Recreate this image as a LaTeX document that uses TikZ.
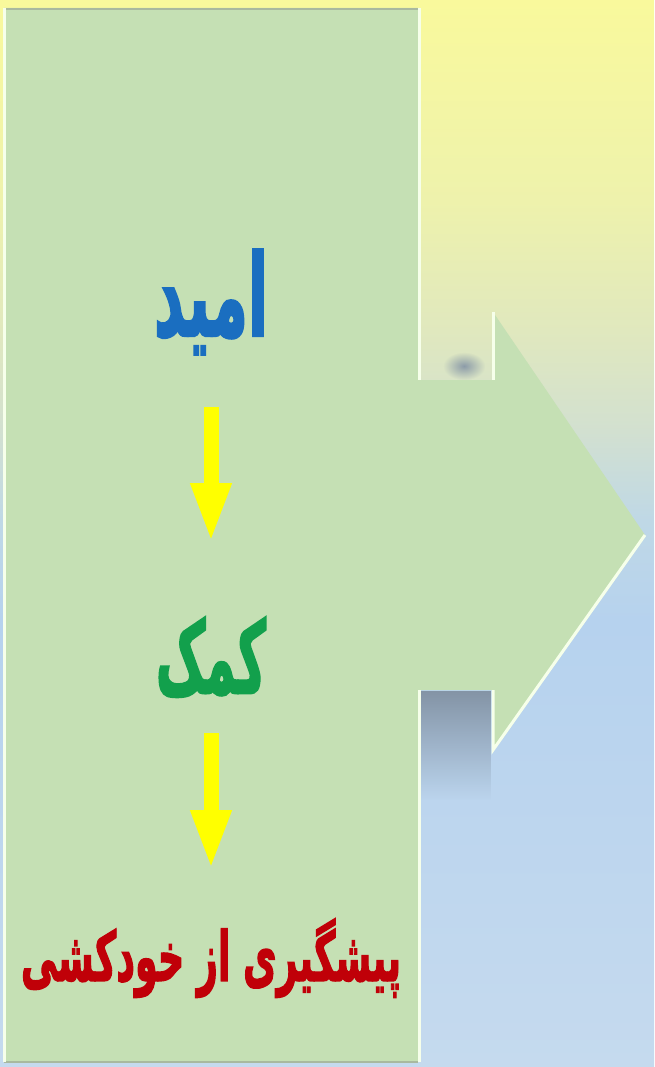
\documentclass[tikz,border=0pt]{standalone}
\usepackage{fontspec}
\usepackage{graphicx}
\usetikzlibrary{arrows.meta,fadings}
\TeXXeTstate=1
\newfontfamily\arabicfont[Script=Arabic, BoldFeatures={FakeBold=2.5}]{DejaVu Sans}
\definecolor{bgA}{HTML}{F9F99C}
\definecolor{bgB}{HTML}{EEF2AC}
\definecolor{bgC}{HTML}{E0E8BE}
\definecolor{bgD}{HTML}{D2E0D0}
\definecolor{bgE}{HTML}{BFD8E6}
\definecolor{bgF}{HTML}{B6D2EE}
\definecolor{bgG}{HTML}{C5DAEE}
\definecolor{panelgreen}{HTML}{C5E0B4}
\definecolor{edgewhite}{HTML}{F6FFEA}
\definecolor{shadowc}{HTML}{8494A6}
\definecolor{txtblue}{HTML}{1A6EC0}
\definecolor{txtgreen}{HTML}{12A04C}
\definecolor{txtred}{HTML}{C00008}
\definecolor{arrowyellow}{HTML}{FFFF00}
\pgfdeclareverticalshading{bgshade}{100bp}{color(0bp)=(bgG); color(25bp)=(bgG); color(45.9bp)=(bgF); color(50.6bp)=(bgE); color(54.8bp)=(bgD); color(59.5bp)=(bgC); color(65.6bp)=(bgB); color(75bp)=(bgA); color(100bp)=(bgA)}
\tikzfading[name=softspot, inner color=transparent!0, outer color=transparent!100]
\tikzset{
  panel/.style={fill=panelgreen},
  edgeline/.style={draw=edgewhite, line width=3pt},
  label/.style={inner sep=0pt, outer sep=0pt},
  yarrow/.style={draw=arrowyellow, line width=15pt, -{Triangle[width=37pt,length=60pt,fill=arrowyellow]}}
}
\begin{document}
\begin{tikzpicture}[x=1pt,y=-1pt]
\useasboundingbox (0,0) rectangle (654,1067);
% background
\shade[shading=bgshade] (0,0) rectangle (654,1067);
% shadows
\fill[shadowc, path fading=south] (421,691) rectangle (491,800);
\fill[shadowc, opacity=0.9, path fading=softspot] (443,352) rectangle (485,380);
% panel with arrow
\fill[panel] (4,8) -- (418,8) -- (418,380) -- (493,380) -- (493,312) -- (645,535)
  -- (493,750) -- (493,690) -- (418,690) -- (418,1062) -- (4,1062) -- cycle;
% edges
\draw[draw=gray!40!panelgreen, line width=2pt] (4,9) -- (418,9);
\draw[draw=gray!40!panelgreen, line width=2pt] (4,1062) -- (418,1062);
\draw[edgeline] (4,8) -- (4,1062);
\draw[edgeline] (419,8) -- (419,380);
\draw[edgeline] (419,690) -- (419,1062);
\draw[edgeline] (493,312) -- (493,380);
\draw[edgeline] (493,690) -- (493,750) -- (645,535);
% texts
\node[label] (amid) at (211,302) {\resizebox*{114pt}{105pt}{\color{txtblue}\arabicfont\bfseries\beginR امید\endR}};
\node[label] (komak) at (211,657) {\resizebox*{110pt}{80pt}{\color{txtgreen}\arabicfont\bfseries\beginR کمک\endR}};
\node[label] (pish) at (211,958) {\resizebox*{380pt}{79pt}{\color{txtred}\arabicfont\bfseries\beginR پیشگیری از خودکشی\endR}};
% connectors
\draw[yarrow, shorten <=105pt, shorten >=114pt] (amid.center) -- (komak.center);
\draw[yarrow, shorten <=76pt, shorten >=88pt] (komak.center) -- (pish.center);
\end{tikzpicture}
\end{document}
